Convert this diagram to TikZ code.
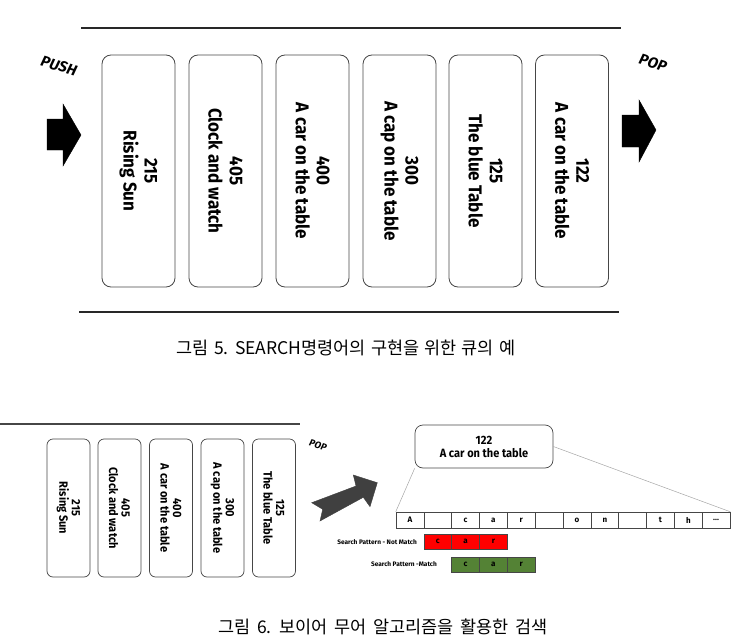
\documentclass[tikz,border=0pt]{standalone}
\usepackage{fontspec}
\setmainfont{Fira Sans}
\newfontfamily\krfont{Noto Sans CJK KR}
\newfontfamily\krwide[WordSpace=1.3]{Noto Sans CJK KR}
\newfontfamily\boxfont[FakeStretch=0.92]{Fira Sans}
\definecolor{railgray}{RGB}{40,40,40}
\definecolor{boxgray}{RGB}{70,70,70}
\definecolor{popgray}{RGB}{64,64,64}
\definecolor{nomatch}{RGB}{255,0,0}
\definecolor{okmatch}{RGB}{84,130,53}
\tikzset{
  rail/.style={draw=railgray, line width=2pt},
  qitem/.style={draw=boxgray, line width=0.8pt, rounded corners=9pt, rotate=-90,
    minimum width=232pt, minimum height=73pt, inner sep=0pt, align=center,
    font=\boxfont\bfseries\fontsize{18.5}{21}\selectfont},
  sitem/.style={draw=boxgray, line width=0.7pt, rounded corners=6pt, rotate=-90,
    minimum width=138pt, minimum height=43pt, inner sep=0pt, align=center,
    font=\boxfont\bfseries\fontsize{12}{12.5}\selectfont},
  tag/.style={rotate=-17, inner sep=0pt, font=\bfseries\itshape\fontsize{15}{15}\selectfont},
  chr/.style={draw=boxgray, line width=0.5pt, minimum width=27.83pt, minimum height=16pt,
    inner sep=0pt, font=\bfseries\fontsize{8}{8}\selectfont},
  pat/.style={chr, minimum height=15pt},
  patlabel/.style={anchor=east, inner sep=0pt, font=\bfseries\fontsize{6.5}{7}\selectfont},
  caption/.style={inner sep=0pt, font=\krfont\fontsize{17.5}{20}\selectfont}
}
\begin{document}
\begin{tikzpicture}[x=1pt,y=1pt,yscale=-1,xscale=1]
\useasboundingbox (0,0) rectangle (736,642);

%Queue rails (figure 5)
\draw [rail] (81,28) -- (621,28);
\draw [rail] (79,312) -- (619,312);

%PUSH arrow
\draw [fill=black] (47,119) -- (63,119) -- (63,104) -- (81,135) -- (63,166) -- (63,150) -- (47,150) -- cycle;
\node [tag] (push) at (59,66) {PUSH};
%POP arrow
\draw [fill=black] (622,115) -- (639,115) -- (639,100) -- (656,130) -- (639,162) -- (639,147) -- (622,147) -- cycle;
\node [tag] (pop) at (653,63) {POP};

%Queue items
\node [qitem] (q1) at (138.5,171) {215\\Rising Sun};
\node [qitem] (q2) at (225.5,171) {405\\Clock and watch};
\node [qitem] (q3) at (312.5,171) {400\\A car on the table};
\node [qitem] (q4) at (399.5,171) {300\\A cap on the table};
\node [qitem] (q5) at (485.5,171) {125\\The blue Table};
\node [qitem] (q6) at (572,171) {122\\A car on the table};

%Caption 5
\node [caption] (cap5) at (346,348) {그림 5. SEARCH명령어의 구현을 위한 큐의 예};

%Queue rail (figure 6)
\draw [draw=boxgray, line width=1.3pt] (0,424) -- (300,424);

%Remaining items
\node [sitem] (s1) at (68.5,508) {215\\Rising Sun};
\node [sitem] (s2) at (119.5,508) {405\\Clock and watch};
\node [sitem] (s3) at (171,508) {400\\A car on the table};
\node [sitem] (s4) at (222.5,508) {300\\A cap on the table};
\node [sitem] (s5) at (274,508) {125\\The blue Table};
\node [tag, font=\bfseries\itshape\fontsize{9.5}{9.5}\selectfont] (spop) at (318,445) {POP};

%Popped arrow
\draw [fill=popgray, draw=popgray] (311.7,502.7) -- (356,486) -- (353.3,475) -- (377.3,482.7) -- (370,506.7) -- (363.3,497.3) -- (320,521) -- (322.7,509.3) -- cycle;

%Popped item
\node [draw=boxgray, line width=0.7pt, rounded corners=8pt, minimum width=138pt, minimum height=43pt,
  inner sep=0pt, align=center, font=\boxfont\bfseries\fontsize{12}{13}\selectfont] (top) at (484,446.5) {122\\A car on the table};

%Text cells
\node [chr] (c0) at (409.9,520) {A};
\node [chr] (c1) at (437.8,520) {};
\node [chr] (c2) at (465.6,520) {c};
\node [chr] (c3) at (493.4,520) {a};
\node [chr] (c4) at (521.3,520) {r};
\node [chr] (c5) at (549.1,520) {};
\node [chr] (c6) at (577.0,520) {o};
\node [chr] (c7) at (604.8,520) {n};
\node [chr] (c8) at (632.6,520) {};
\node [chr] (c9) at (660.5,520) {t};
\node [chr] (c10) at (688.3,520) {h};
\node [chr] (c11) at (716.1,520) {...};

%Zoom lines
\draw [draw=gray!70, line width=0.5pt] (top.south west) -- (c0.north west);
\draw [draw=gray!70, line width=0.5pt] (top.east) -- (c11.north east);

%Pattern - not match
\node [patlabel] (nlab) at (417,542) {Search Pattern - Not Match};
\node [pat, fill=nomatch] (n1) at (437.8,541.5) {c};
\node [pat, fill=nomatch] (n2) at (465.6,541.5) {a};
\node [pat, fill=nomatch] (n3) at (493.4,541.5) {r};
%Pattern - match
\node [patlabel] (mlab) at (437,564) {Search Pattern -Match};
\node [pat, fill=okmatch] (m1) at (465.6,564.5) {c};
\node [pat, fill=okmatch] (m2) at (493.4,564.5) {a};
\node [pat, fill=okmatch] (m3) at (521.3,564.5) {r};

%Caption 6
\node [caption, font=\krwide\fontsize{17.5}{20}\selectfont] (cap6) at (383,627) {그림 6. 보이어 무어 알고리즘을 활용한 검색};

\end{tikzpicture}
\end{document}
